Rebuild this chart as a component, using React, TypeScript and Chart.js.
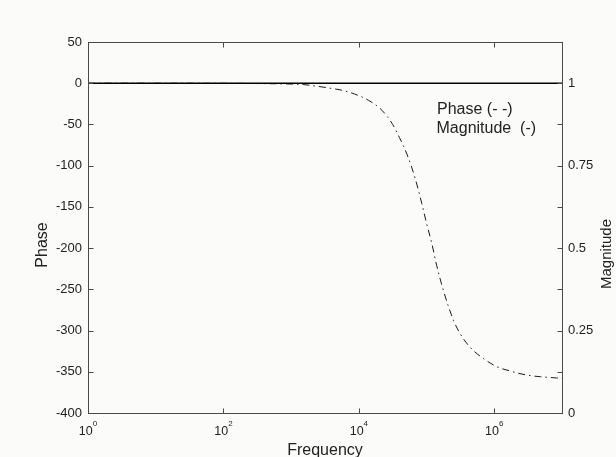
import React, { useEffect, useRef } from "react";
import { Chart, registerables } from "chart.js";

Chart.register(...registerables);

// ---- data ----
const phaseFreq = [1, 10, 100, 316, 1000, 1500, 2240, 3550, 5620, 8710, 13800, 21900, 31600, 39800, 51300, 67600, 85100, 100000, 120000, 141000, 178000, 209000, 251000, 309000, 437000, 692000, 1100000, 1700000, 3000000, 4800000, 8300000, 10000000];
const phaseValues = [0, 0, -0.1, -0.4, -1, -1.6, -3.3, -5.7, -8.5, -13.2, -20.6, -32.8, -50, -66, -86, -115, -146, -170, -195, -221, -252, -270, -288, -303, -320, -334, -344, -349, -354, -356, -357.5, -358];
const magFreq = [1, 10, 100, 1000, 10000, 100000, 1000000, 10000000];
const magValues = [1, 1, 1, 1, 1, 1, 1, 1];
const xTickValues = [1, 100, 10000, 1000000];
const phaseRange = [-400, 50];
const phaseStep = 50;
const magRange = [0, 1.125];
const magStep = 0.125;

const FONT = "'Liberation Sans', Arial, Helvetica, sans-serif";
const INK = "#222";
const AXIS = "#4a4a4a";

const framePlugin = {
  id: "frame",
  afterDraw(chart: any) {
    const { ctx, chartArea } = chart;
    const { left, right, top, bottom } = chartArea;
    const xs = chart.scales.x;
    const yl = chart.scales.y;
    const yr = chart.scales.y1;
    ctx.save();
    ctx.strokeStyle = AXIS;
    ctx.lineWidth = 1;
    const L = Math.round(left) + 0.5, R = Math.round(right) + 0.5;
    const T = Math.round(top) + 0.5, B = Math.round(bottom) + 0.5;
    ctx.strokeRect(L, T, R - L, B - T);
    const tl = 5;
    ctx.beginPath();
    xTickValues.forEach((v) => {
      const px = Math.round(xs.getPixelForValue(v)) + 0.5;
      ctx.moveTo(px, B); ctx.lineTo(px, B - tl);
      ctx.moveTo(px, T); ctx.lineTo(px, T + tl);
    });
    yl.ticks.forEach((t: any) => {
      const py = Math.round(yl.getPixelForValue(t.value)) + 0.5;
      ctx.moveTo(L, py); ctx.lineTo(L + tl, py);
    });
    yr.ticks.forEach((t: any) => {
      const py = Math.round(yr.getPixelForValue(t.value)) + 0.5;
      ctx.moveTo(R, py); ctx.lineTo(R - tl, py);
    });
    ctx.stroke();

    ctx.fillStyle = INK;
    ctx.textBaseline = "alphabetic";
    xTickValues.forEach((v) => {
      const px = xs.getPixelForValue(v);
      const exp = String(Math.round(Math.log10(v)));
      ctx.font = `12.5px ${FONT}`;
      const wb = ctx.measureText("10").width;
      ctx.font = `8px ${FONT}`;
      const we = ctx.measureText(exp).width;
      const x0 = px - (wb + we) / 2;
      ctx.font = `12.5px ${FONT}`;
      ctx.textAlign = "left";
      ctx.fillText("10", x0, 435);
      ctx.font = `8px ${FONT}`;
      ctx.fillText(exp, x0 + wb, 426);
    });

    ctx.font = `16px ${FONT}`;
    ctx.textAlign = "center";
    ctx.fillText("Frequency", (left + right) / 2, 455);

    ctx.save();
    ctx.translate(46.5, 245);
    ctx.rotate(-Math.PI / 2);
    ctx.fillText("Phase", 0, 0);
    ctx.restore();

    ctx.save();
    ctx.font = `15px ${FONT}`;
    ctx.translate(611, 254);
    ctx.rotate(-Math.PI / 2);
    ctx.fillText("Magnitude", 0, 0);
    ctx.restore();

    ctx.font = `16px ${FONT}`;
    ctx.textAlign = "left";
    ctx.fillText("Phase (- -)", 437, 114);
    ctx.fillText("Magnitude  (-)", 436.5, 133);
    ctx.restore();
  },
};

export default function App() {
  const ref = useRef<HTMLCanvasElement | null>(null);
  useEffect(() => {
    if (!ref.current) return;
    const chart = new Chart(ref.current, {
      type: "line",
      data: {
        datasets: [
          {
            label: "Magnitude",
            data: magFreq.map((f, i) => ({ x: f, y: magValues[i] })),
            yAxisID: "y1",
            borderColor: "#000",
            borderWidth: 1.6,
            pointRadius: 0,
            fill: false,
          },
          {
            label: "Phase",
            data: phaseFreq.map((f, i) => ({ x: f, y: phaseValues[i] })),
            yAxisID: "y",
            borderColor: "#1a1a1a",
            borderWidth: 1,
            borderDash: [7, 4, 1.5, 4],
            pointRadius: 0,
            cubicInterpolationMode: "monotone",
            fill: false,
          },
        ],
      },
      options: {
        responsive: false,
        animation: false,
        events: [],
        layout: { padding: { top: 42, bottom: 44, left: 0, right: 0 } },
        plugins: { legend: { display: false }, tooltip: { enabled: false } },
        scales: {
          x: {
            type: "logarithmic",
            min: 1,
            max: 1e7,
            display: false,
          },
          y: {
            type: "linear",
            position: "left",
            min: phaseRange[0],
            max: phaseRange[1],
            grid: { display: false, drawTicks: false },
            border: { display: false },
            ticks: {
              stepSize: phaseStep,
              autoSkip: false,
              padding: 6,
              color: INK,
              font: { family: FONT, size: 13 },
            },
            afterFit: (s: any) => { s.width = 88; },
          },
          y1: {
            type: "linear",
            position: "right",
            min: magRange[0],
            max: magRange[1],
            grid: { display: false, drawTicks: false },
            border: { display: false },
            ticks: {
              stepSize: magStep,
              autoSkip: false,
              padding: 6,
              color: INK,
              font: { family: FONT, size: 13 },
              callback: (v: any) => {
                const n = Number(v);
                return Math.abs(n * 4 - Math.round(n * 4)) < 1e-9 ? String(n) : "";
              },
            },
            afterFit: (s: any) => { s.width = 54; },
          },
        },
      } as any,
      plugins: [framePlugin],
    });
    return () => chart.destroy();
  }, []);
  return (
    <div style={{ position: "fixed", left: 0, top: 0, width: 616, height: 457, background: "#fbfbf9" }}>
      <canvas ref={ref} width={616} height={457} style={{ width: 616, height: 457, display: "block" }} />
    </div>
  );
}
